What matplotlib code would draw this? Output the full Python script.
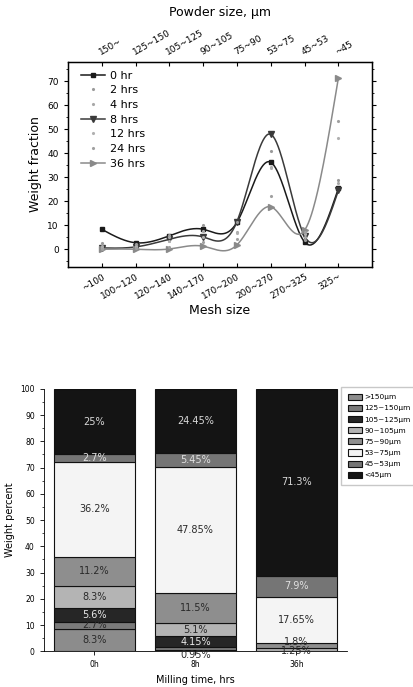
import numpy as np
import matplotlib
matplotlib.use("Agg")
import matplotlib.pyplot as plt

# ---- top chart data (weight fraction vs mesh size) ----
mesh = ["~100", "100~120", "120~140", "140~170", "170~200", "200~270", "270~325", "325~"]
powder = ["150~", "125~150", "105~125", "90~105", "75~90", "53~75", "45~53", "~45"]
frac_0h = [8.3, 2.7, 5.6, 8.3, 11.2, 36.2, 3.0, 25.3]
frac_2h = [2.6, 2.0, 5.8, 10.0, 11.5, 40.7, 4.0, 28.9]
frac_4h = [1.2, 1.5, 5.0, 7.5, 7.3, 34.4, 5.0, 27.5]
frac_8h = [0.55, 0.95, 4.15, 5.1, 11.5, 47.85, 5.45, 24.45]
frac_12h = [0.6, 0.8, 3.5, 5.0, 6.8, 34.0, 6.5, 46.1]
frac_24h = [0.3, 0.5, 1.0, 3.0, 4.3, 22.0, 7.0, 53.4]
frac_36h = [0.0, 0.0, 0.1, 1.25, 1.8, 17.65, 7.9, 71.3]

# ---- bottom chart data (weight percent vs milling time) ----
times = ["0h", "8h", "36h"]
sizes = [">150\u03bcm", "125~150\u03bcm", "105~125\u03bcm", "90~105\u03bcm",
         "75~90\u03bcm", "53~75\u03bcm", "45~53\u03bcm", "<45\u03bcm"]
pct_0h = [8.3, 2.7, 5.6, 8.3, 11.2, 36.2, 2.7, 25.0]
pct_8h = [0.55, 0.95, 4.15, 5.1, 11.5, 47.85, 5.45, 24.45]
pct_36h = [0.0, 0.0, 0.1, 1.25, 1.8, 17.65, 7.9, 71.3]


def natural_spline(x, y, n=300):
    x = np.asarray(x, float)
    y = np.asarray(y, float)
    k = len(x)
    h = np.diff(x)
    A = np.zeros((k, k))
    b = np.zeros(k)
    A[0, 0] = A[-1, -1] = 1
    for i in range(1, k - 1):
        A[i, i - 1] = h[i - 1]
        A[i, i] = 2 * (h[i - 1] + h[i])
        A[i, i + 1] = h[i]
        b[i] = 6 * ((y[i + 1] - y[i]) / h[i] - (y[i] - y[i - 1]) / h[i - 1])
    M = np.linalg.solve(A, b)
    xs = np.linspace(x[0], x[-1], n)
    idx = np.clip(np.searchsorted(x, xs) - 1, 0, k - 2)
    x0, x1 = x[idx], x[idx + 1]
    hh = x1 - x0
    t0, t1 = x1 - xs, xs - x0
    ys = (M[idx] * t0 ** 3 + M[idx + 1] * t1 ** 3) / (6 * hh) \
        + (y[idx] / hh - M[idx] * hh / 6) * t0 + (y[idx + 1] / hh - M[idx + 1] * hh / 6) * t1
    return xs, ys


fig = plt.figure(figsize=(4.14, 6.87), dpi=100)
fig.patch.set_facecolor("white")

# ================= top chart =================
ax = fig.add_axes([0.164, 0.611, 0.735, 0.299])
xpos = np.arange(1, len(mesh) + 1)

lines = [
    (frac_0h, "0 hr", "s", "#1a1a1a", 3.5),
    (frac_8h, "8 hrs", "v", "#3a3a3a", 4.0),
    (frac_36h, "36 hrs", ">", "#8a8a8a", 4.0),
]
dots = [
    (frac_2h, "2 hrs", "#9a9a9a"),
    (frac_4h, "4 hrs", "#a8a8a8"),
    (frac_12h, "12 hrs", "#b0b0b0"),
    (frac_24h, "24 hrs", "#a0a0a0"),
]
handles = {}
for vals, lab, mk, col, ms in lines:
    xs, ys = natural_spline(xpos, vals)
    ax.plot(xs, ys, color=col, lw=1.1)
    ax.plot(xpos, vals, mk, color=col, ms=ms, ls="none")
    handles[lab], = ax.plot([], [], color=col, lw=1.1, marker=mk, ms=ms)
for vals, lab, col in dots:
    handles[lab], = ax.plot(xpos, vals, ".", color=col, ms=2.5, ls="none")

order = ["0 hr", "2 hrs", "4 hrs", "8 hrs", "12 hrs", "24 hrs", "36 hrs"]
ax.legend([handles[o] for o in order], order, loc="upper left", frameon=False,
          fontsize=8, handlelength=2.2, handletextpad=0.4, labelspacing=0.42,
          borderaxespad=0.2, bbox_to_anchor=(0.02, 0.99))

ax.set_xlim(0, 9)
ax.set_ylim(-7.5, 78)
ax.set_yticks(np.arange(0, 71, 10))
ax.set_yticks(np.arange(-5, 76, 5), minor=True)
ax.set_xticks(xpos)
ax.set_xticklabels(mesh, rotation=30, ha="right", rotation_mode="anchor", fontsize=6.5)
ax.tick_params(axis="y", labelsize=6.5, direction="out", length=3, right=True)
ax.tick_params(axis="y", which="minor", length=1.5, right=True)
ax.tick_params(axis="x", direction="in", length=3)
ax.set_ylabel("Weight fraction", fontsize=9)
ax.set_xlabel("Mesh size", fontsize=9, labelpad=2)
for s in ax.spines.values():
    s.set_linewidth(1.0)

top = ax.twiny()
top.set_xlim(ax.get_xlim())
top.set_xticks(xpos)
top.set_xticklabels(powder, rotation=30, ha="left", rotation_mode="anchor", fontsize=6.5)
top.tick_params(axis="x", direction="in", length=3, pad=4)
top.set_xlabel("Powder size, \u03bcm", fontsize=9, labelpad=8)

# ================= bottom chart =================
bx = fig.add_axes([0.106, 0.052, 0.732, 0.382])
colors = ["#8c8c8c", "#7a7a7a", "#262626", "#b4b4b4", "#8e8e8e", "#f4f4f4", "#757575", "#141414"]
text_cols = ["#2a2a2a", "#e0e0e0", "#e8e8e8", "#2a2a2a", "#2a2a2a", "#2a2a2a", "#e0e0e0", "#d8d8d8"]
data = np.array([pct_0h, pct_8h, pct_36h])
bpos = np.arange(len(times))
bottom = np.zeros(len(times))
for j, name in enumerate(sizes):
    bx.bar(bpos, data[:, j], 0.8, bottom=bottom, color=colors[j],
           edgecolor="#111111", linewidth=0.8, label=name)
    bottom += data[:, j]

# label positions for the thin segments that are labelled off-centre
label_y = {(0, 1): 9.9, (1, 1): -1.5, (2, 3): 0.2, (2, 4): 3.6}
skip = {(1, 0), (2, 0), (2, 1), (2, 2)}
for i in range(len(times)):
    cum = 0.0
    for j in range(len(sizes)):
        v = data[i, j]
        if (i, j) not in skip:
            y = label_y.get((i, j), cum + v / 2)
            tc = text_cols[j]
            if (i, j) in label_y:
                tc = "#2a2a2a"
            bx.text(bpos[i], y, f"{v:g}%", ha="center", va="center", fontsize=7, color=tc)
        cum += v

bx.set_xlim(-0.5, 2.5)
bx.set_ylim(0, 100)
bx.set_yticks(np.arange(0, 101, 10))
bx.set_yticks(np.arange(0, 101, 5), minor=True)
bx.set_xticks(bpos)
bx.set_xticklabels(times)
bx.tick_params(axis="both", labelsize=5.5, length=3, width=0.6)
bx.tick_params(axis="y", which="minor", length=1.5, width=0.5)
bx.spines["top"].set_visible(False)
bx.spines["right"].set_visible(False)
bx.spines["left"].set_linewidth(0.6)
bx.spines["bottom"].set_linewidth(0.6)
bx.set_ylabel("Weight percent", fontsize=7)
bx.set_xlabel("Milling time, hrs", fontsize=7, labelpad=4)

h, l = bx.get_legend_handles_labels()
fig.legend(h, l, loc="upper left", bbox_to_anchor=(341 / 414, 1 - 387 / 687),
           fontsize=5.3, frameon=True, fancybox=False, edgecolor="#bbbbbb",
           handlelength=2.0, handleheight=0.9, labelspacing=0.62, borderpad=0.9,
           handletextpad=0.3, borderaxespad=0)

fig.savefig("out.png", dpi=100, facecolor="white")
